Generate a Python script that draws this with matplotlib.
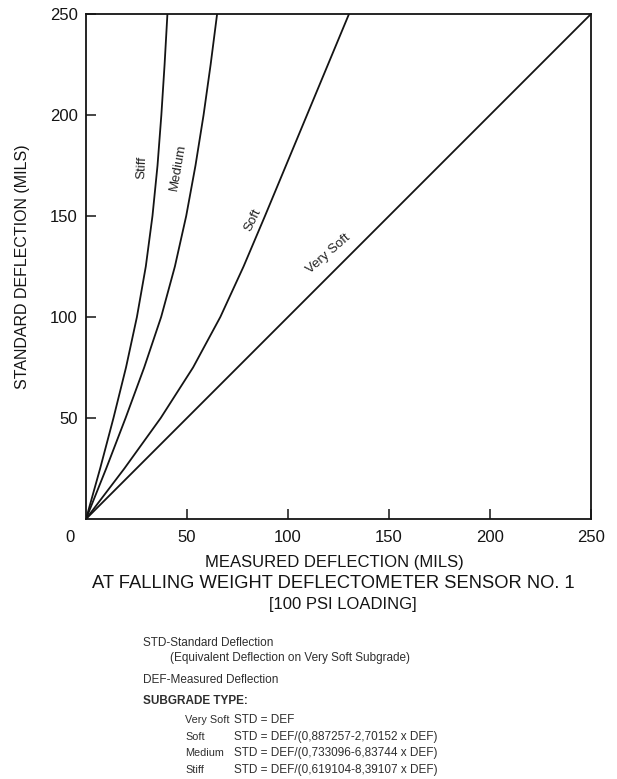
import matplotlib.pyplot as plt

plt.rcParams['font.family'] = ['Liberation Sans', 'DejaVu Sans']

# Standard deflection (mils) at which each curve was read
std = [0, 25, 50, 75, 100, 125, 150, 175, 200, 225, 250]

# Measured deflection (mils) for each subgrade type
def_stiff = [0, 7, 13.6, 19.8, 25.2, 29.6, 32.9, 35.4, 37.3, 38.9, 40.3]
def_medium = [0, 10, 19.6, 28.8, 37.2, 44, 49.6, 54.2, 58.2, 61.7, 64.9]
def_soft = [0, 19, 37, 53, 66.5, 78, 88.6, 99, 109.4, 119.8, 130.2]
def_very_soft = [0, 250]
std_very_soft = [0, 250]

xticks = [50, 100, 150, 200, 250]
yticks = [50, 100, 150, 200, 250]

fig = plt.figure(figsize=(6.17, 7.79), dpi=100)
ax = fig.add_axes([0.1394, 0.3338, 0.8185, 0.6483])

ink = '#141414'
lw = 1.3
ax.plot(def_stiff, std, color=ink, lw=lw)
ax.plot(def_medium, std, color=ink, lw=lw)
ax.plot(def_soft, std, color=ink, lw=lw)
ax.plot(def_very_soft, std_very_soft, color=ink, lw=lw)

# curve names written along the lines
lab = dict(fontsize=9.5, color='#222222', ha='center', va='center', rotation_mode='anchor')
ax.text(27.7, 174, 'Stiff', rotation=87, **lab)
ax.text(45.5, 174, 'Medium', rotation=80, **lab)
ax.text(82.5, 148, 'Soft', rotation=64, **lab)
ax.text(120, 131, 'Very Soft', rotation=41, **lab)

ax.set_xlim(0, 250)
ax.set_ylim(0, 250)
ax.set_xticks(xticks)
ax.set_yticks(yticks)
ax.tick_params(direction='in', length=7, width=1.1, labelsize=12, colors=ink)
ax.tick_params(axis='x', pad=8)
ax.tick_params(axis='y', pad=6)
for s in ax.spines.values():
    s.set_linewidth(1.3)
    s.set_color(ink)

ax.annotate('0', xy=(0, 0), xytext=(-11.5, -13), textcoords='offset points',
            ha='center', va='center', fontsize=12, color=ink)

ax.set_ylabel('STANDARD DEFLECTION (MILS)', fontsize=11.5, labelpad=14, color=ink)

# x-axis title, three lines
W, H = 617, 779
title_kw = dict(ha='center', va='center', color=ink)
fig.text(334 / W, 1 - 562 / H, 'MEASURED DEFLECTION (MILS)', fontsize=12, **title_kw)
fig.text(333 / W, 1 - 583 / H, 'AT FALLING WEIGHT DEFLECTOMETER SENSOR NO. 1', fontsize=13.2, **title_kw)
fig.text(343 / W, 1 - 604 / H, '[100 PSI LOADING]', fontsize=12, **title_kw)

# notes below the chart
note = dict(ha='left', va='center', fontsize=8.5, color='#2e2e2e')
fig.text(143 / W, 1 - 643 / H, 'STD-Standard Deflection', **note)
fig.text(170 / W, 1 - 658 / H, '(Equivalent Deflection on Very Soft Subgrade)', **note)
fig.text(143 / W, 1 - 680 / H, 'DEF-Measured Deflection', **note)
fig.text(143 / W, 1 - 701 / H, 'SUBGRADE TYPE:', fontweight='bold', **note)

names = ['Very Soft', 'Soft', 'Medium', 'Stiff']
formulas = ['STD = DEF',
            'STD = DEF/(0,887257-2,70152 x DEF)',
            'STD = DEF/(0,733096-6,83744 x DEF)',
            'STD = DEF/(0,619104-8,39107 x DEF)']
rows_y = [720, 737, 753, 770]
name_kw = dict(note, fontsize=7.8)
for name, f, y in zip(names, formulas, rows_y):
    fig.text(185 / W, 1 - y / H, name, **name_kw)
    fig.text(234 / W, 1 - y / H, f, **note)

fig.savefig('out.png', dpi=100)
